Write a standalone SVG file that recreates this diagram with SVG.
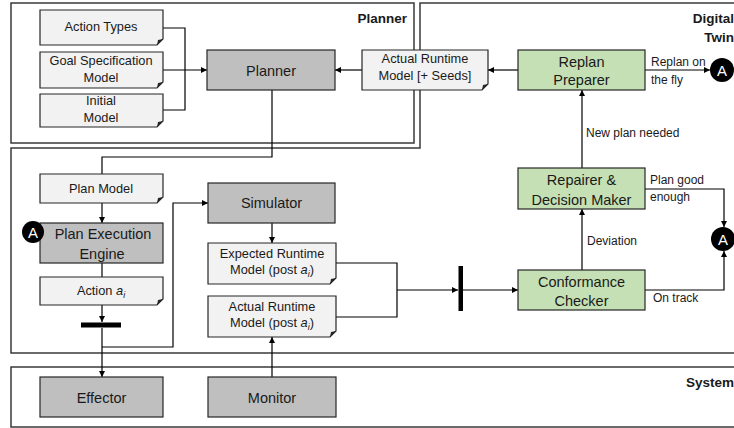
<svg xmlns="http://www.w3.org/2000/svg" width="734" height="428" viewBox="0 0 734 428">
<defs>
<style>
.frame{fill:none;stroke:#3a3a3a;stroke-width:1.5}
.doc{fill:#f2f2f2;stroke:#262626;stroke-width:1.2}
.fold{fill:#262626}
.proc{fill:#bfbfbf;stroke:#262626;stroke-width:1.2}
.green{fill:#c5e0b4;stroke:#262626;stroke-width:1.2}
.con{fill:none;stroke:#000;stroke-width:1.2}
.arr{marker-end:url(#ah)}
text{font-family:"Liberation Sans",Arial,sans-serif;fill:#1a1a1a}
.dt{font-size:12.8px;text-anchor:middle}
.pt{font-size:14.5px;text-anchor:middle}
.lb{font-size:12px}
.ttl{font-size:13.5px;font-weight:bold;text-anchor:end}
.circ{fill:#000}
.ct{font-size:15px;fill:#fff;text-anchor:middle}
.bar{fill:#000}
</style>
<marker id="ah" viewBox="0 0 10 10" refX="10" refY="5" markerWidth="6" markerHeight="6" markerUnits="userSpaceOnUse" orient="auto">
<path d="M0,0 L10,5 L0,10 Z" fill="#000"/>
</marker>
</defs>

<g id="frames">
<rect class="frame" x="11" y="3" width="403" height="140"/>
<path class="frame" d="M420,3 H742 V353 H11 V148 H420 Z"/>
<rect class="frame" x="11" y="367" width="731" height="60"/>
<text class="ttl" x="407" y="23">Planner</text>
<text class="ttl" x="734" y="23">Digital</text>
<text class="ttl" x="734" y="42">Twin</text>
<text class="ttl" x="734" y="387">System</text>
</g>

<g id="connectors">
<path class="con" d="M163,28 H185 V110 H163"/>
<path class="con arr" d="M163,70 H207"/>
<path class="con arr" d="M362,70 H335"/>
<path class="con arr" d="M518,70 H488"/>
<path class="con arr" d="M645,70 H710"/>
<path class="con arr" d="M582,168 V90"/>
<path class="con arr" d="M582,270 V209"/>
<path class="con arr" d="M645,189 H724 V227"/>
<path class="con arr" d="M645,290 H724 V251"/>
<path class="con" d="M272,90 V157 H102 V174"/>
<path class="con arr" d="M102,203 V223"/>
<path class="con" d="M102,263 V277"/>
<path class="con arr" d="M102,305 V322"/>
<path class="con arr" d="M102,328 V377"/>
<path class="con arr" d="M102,347 H173 V203 H208"/>
<path class="con arr" d="M272,223 V243"/>
<path class="con" d="M336,263 H397 V317 H336"/>
<path class="con arr" d="M397,290 H458"/>
<path class="con arr" d="M463,290 H518"/>
<path class="con arr" d="M272,377 V337"/>
<rect class="bar" x="81" y="322.5" width="40" height="5"/>
<rect class="bar" x="458.5" y="266" width="4.5" height="45"/>
</g>

<g id="action-types">
<path class="doc" d="M40,10 H163 V39 L157,45 H40 Z"/><path class="fold" d="M163,39 L157,45 L158,40 Z"/>
<text class="dt" x="101" y="30.5">Action Types</text>
</g>
<g id="goal-spec">
<path class="doc" d="M40,52 H163 V82 L157,88 H40 Z"/><path class="fold" d="M163,82 L157,88 L158,83 Z"/>
<text class="dt" x="101" y="64.5">Goal Specification</text>
<text class="dt" x="101" y="81.5">Model</text>
</g>
<g id="initial-model">
<path class="doc" d="M40,94 H163 V121 L157,127 H40 Z"/><path class="fold" d="M163,121 L157,127 L158,122 Z"/>
<text class="dt" x="101" y="105">Initial</text>
<text class="dt" x="101" y="122">Model</text>
</g>
<g id="planner">
<rect class="proc" x="207" y="50" width="128" height="40"/>
<text class="pt" x="271" y="75.5">Planner</text>
</g>
<g id="actual-runtime-seeds">
<path class="doc" d="M362,50 H488 V84 L482,90 H362 Z"/><path class="fold" d="M488,84 L482,90 L483,85 Z"/>
<text class="dt" x="425" y="62.5">Actual Runtime</text>
<text class="dt" x="425" y="80">Model [+ Seeds]</text>
</g>
<g id="replan-preparer">
<rect class="green" x="518" y="50" width="127" height="40"/>
<text class="pt" x="581.5" y="67">Replan</text>
<text class="pt" x="581.5" y="85">Preparer</text>
</g>
<g id="a-top">
<circle class="circ" cx="722" cy="70" r="12"/>
<text class="ct" x="722" y="75.5">A</text>
</g>
<g id="repairer">
<rect class="green" x="518" y="168" width="127" height="41"/>
<text class="pt" x="581.5" y="185">Repairer &amp;</text>
<text class="pt" x="581.5" y="205">Decision Maker</text>
</g>
<g id="a-right">
<circle class="circ" cx="723" cy="239" r="12"/>
<text class="ct" x="723" y="244.5">A</text>
</g>
<g id="conformance">
<rect class="green" x="518" y="270" width="127" height="40"/>
<text class="pt" x="581.5" y="287">Conformance</text>
<text class="pt" x="581.5" y="306">Checker</text>
</g>
<g id="labels">
<text class="lb" x="651" y="66">Replan on</text>
<text class="lb" x="651" y="84">the fly</text>
<text class="lb" x="586" y="137">New plan needed</text>
<text class="lb" x="650" y="184">Plan good</text>
<text class="lb" x="650" y="201">enough</text>
<text class="lb" x="587" y="245">Deviation</text>
<text class="lb" x="653" y="302">On track</text>
</g>
<g id="plan-model">
<path class="doc" d="M40,174 H163 V197 L157,203 H40 Z"/><path class="fold" d="M163,197 L157,203 L158,198 Z"/>
<text class="dt" x="101" y="192.5">Plan Model</text>
</g>
<g id="plan-execution-engine">
<rect class="proc" x="40" y="223" width="123" height="40"/>
<text class="pt" x="103" y="239">Plan Execution</text>
<text class="pt" x="102" y="259">Engine</text>
</g>
<g id="a-left">
<circle class="circ" cx="33" cy="232" r="11"/>
<text class="ct" x="33" y="237.5">A</text>
</g>
<g id="action">
<path class="doc" d="M40,277 H163 V299 L157,305 H40 Z"/><path class="fold" d="M163,299 L157,305 L158,300 Z"/>
<text class="dt" x="101" y="294.5">Action <tspan font-style="italic">a</tspan><tspan font-style="italic" font-size="9" dy="3">i</tspan></text>
</g>
<g id="simulator">
<rect class="proc" x="208" y="183" width="127" height="40"/>
<text class="pt" x="271.5" y="208">Simulator</text>
</g>
<g id="expected-runtime">
<path class="doc" d="M208,243 H336 V278 L330,284 H208 Z"/><path class="fold" d="M336,278 L330,284 L331,279 Z"/>
<text class="dt" x="272" y="257.5">Expected Runtime</text>
<text class="dt" x="272" y="273.5">Model (post <tspan font-style="italic">a</tspan><tspan font-style="italic" font-size="9" dy="3">i</tspan><tspan dy="-3">)</tspan></text>
</g>
<g id="actual-runtime-post">
<path class="doc" d="M208,296 H336 V331 L330,337 H208 Z"/><path class="fold" d="M336,331 L330,337 L331,332 Z"/>
<text class="dt" x="272" y="310.5">Actual Runtime</text>
<text class="dt" x="272" y="326.5">Model (post <tspan font-style="italic">a</tspan><tspan font-style="italic" font-size="9" dy="3">i</tspan><tspan dy="-3">)</tspan></text>
</g>
<g id="effector">
<rect class="proc" x="40" y="377" width="123" height="40"/>
<text class="pt" x="101.5" y="403">Effector</text>
</g>
<g id="monitor">
<rect class="proc" x="208" y="377" width="128" height="40"/>
<text class="pt" x="272" y="403">Monitor</text>
</g>
</svg>
